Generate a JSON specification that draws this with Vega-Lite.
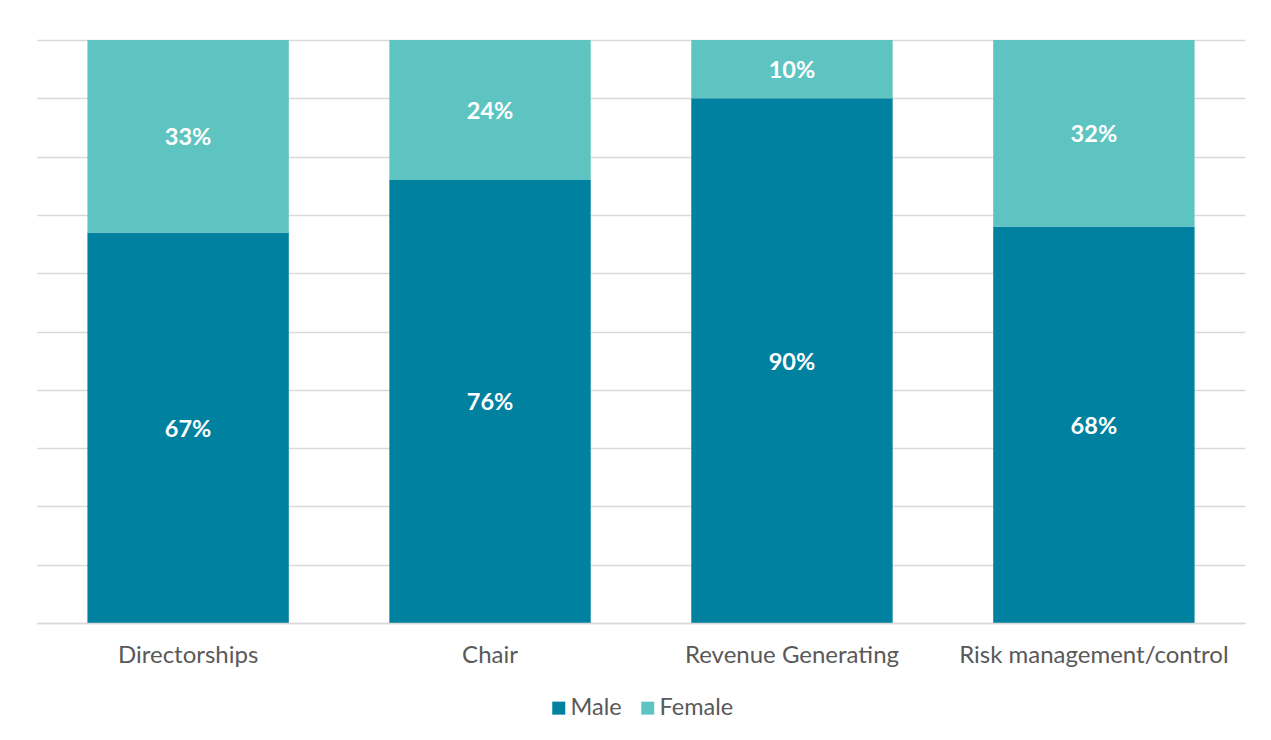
{
  "$schema": "https://vega.github.io/schema/vega-lite/v6.json",
  "width": 1208,
  "height": 583,
  "autosize": {"type": "none"},
  "padding": {"left": 37, "top": 40, "right": 26, "bottom": 117},
  "background": "white",
  "config": {
    "font": "Lato",
    "view": {"stroke": null}
  },
  "data": {
    "values": [
      {"category": "Directorships", "gender": "Male", "value": 0.67, "label": "67%"},
      {"category": "Directorships", "gender": "Female", "value": 0.33, "label": "33%"},
      {"category": "Chair", "gender": "Male", "value": 0.76, "label": "76%"},
      {"category": "Chair", "gender": "Female", "value": 0.24, "label": "24%"},
      {"category": "Revenue Generating", "gender": "Male", "value": 0.90, "label": "90%"},
      {"category": "Revenue Generating", "gender": "Female", "value": 0.10, "label": "10%"},
      {"category": "Risk management/control", "gender": "Male", "value": 0.68, "label": "68%"},
      {"category": "Risk management/control", "gender": "Female", "value": 0.32, "label": "32%"}
    ]
  },
  "transform": [
    {"stack": "value", "groupby": ["category"], "sort": [{"field": "gender", "order": "descending"}], "as": ["v0", "v1"]},
    {"calculate": "(datum.v0 + datum.v1) / 2", "as": "mid"}
  ],
  "encoding": {
    "x": {
      "field": "category",
      "type": "nominal",
      "sort": ["Directorships", "Chair", "Revenue Generating", "Risk management/control"],
      "scale": {"paddingInner": 0.333, "paddingOuter": 0.167},
      "axis": {
        "title": null,
        "labelAngle": 0,
        "labelFontSize": 24,
        "labelLimit": 0,
        "labelColor": "#595959",
        "labelPadding": 20,
        "ticks": false,
        "domainColor": "#D9D9D9",
        "domainWidth": 1.5,
        "zindex": 1
      }
    }
  },
  "layer": [
    {
      "mark": {"type": "bar"},
      "encoding": {
        "y": {
          "field": "v0",
          "type": "quantitative",
          "scale": {"domain": [0, 1], "nice": false},
          "axis": {
            "title": null,
            "labels": false,
            "ticks": false,
            "domain": false,
            "values": [0, 0.1, 0.2, 0.3, 0.4, 0.5, 0.6, 0.7, 0.8, 0.9, 1.0],
            "gridColor": "#D9D9D9",
            "gridWidth": 1.5
          }
        },
        "y2": {"field": "v1"},
        "color": {
          "field": "gender",
          "type": "nominal",
          "scale": {"domain": ["Male", "Female"], "range": ["#00819F", "#5EC4C1"]},
          "legend": {
            "title": null,
            "orient": "none",
            "legendX": 510,
            "legendY": 656,
            "direction": "horizontal",
            "symbolType": "square",
            "symbolSize": 169,
            "symbolStrokeWidth": 0,
            "labelFontSize": 23.5,
            "labelColor": "#595959",
            "columnPadding": 14,
            "labelOffset": 0
          }
        }
      }
    },
    {
      "mark": {"type": "text", "color": "white", "fontWeight": "bold", "fontSize": 23.5, "baseline": "middle", "align": "center", "dy": 2},
      "encoding": {
        "y": {"field": "mid", "type": "quantitative"},
        "text": {"field": "label", "type": "nominal"}
      }
    }
  ]
}
